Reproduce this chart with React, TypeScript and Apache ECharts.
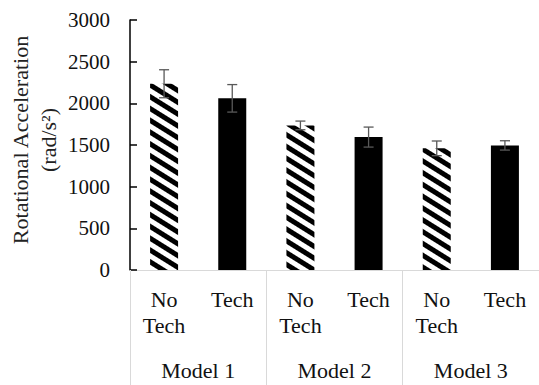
import React, { useEffect, useRef } from "react";
import * as echarts from "echarts";

// Bars, in drawing order: No Tech / Tech for each model
const categories = ["No\nTech", "Tech", "No\nTech", "Tech", "No\nTech", "Tech"];
const groups = ["Model 1", "Model 2", "Model 3"];
const means = [2235, 2060, 1735, 1595, 1460, 1495];
const errors = [168, 165, 52, 120, 88, 56];
const yTicks = { min: 0, max: 3000, interval: 500 };

const FONT = "Liberation Serif";

export default function App() {
  const ref = useRef<HTMLDivElement>(null);

  useEffect(() => {
    if (!ref.current) return;
    const chart = echarts.init(ref.current, null, { renderer: "svg" });

    // diagonal black/white stripes for the "No Tech" bars
    const hatch = {
      symbol: "rect",
      symbolSize: 1,
      color: "#000",
      backgroundColor: "#fff",
      dashArrayX: [1, 0],
      dashArrayY: [5, 5],
      rotation: Math.PI * 32 / 180,
    };

    const barData = means.map((v, i) => ({
      value: v,
      itemStyle:
        i % 2 === 0
          ? { color: "#fff", decal: hatch }
          : { color: "#000" },
    }));

    const errData = means.map((v, i) => [i, v, errors[i]]);

    chart.setOption({
      animation: false,
      backgroundColor: "#fff",
      textStyle: { fontFamily: FONT },
      grid: { left: 130, right: -8, top: 20, bottom: 115 },
      xAxis: [
        {
          type: "category",
          data: categories,
          position: "bottom",
          axisLine: { show: true, lineStyle: { color: "#d9d9d9", width: 1 } },
          axisTick: { show: false },
          axisLabel: {
            interval: 0,
            margin: 16,
            color: "#111",
            fontFamily: FONT,
            fontSize: 22,
            lineHeight: 26,
            align: "center",
          },
        },
        {
          type: "category",
          data: groups,
          position: "bottom",
          axisLine: { show: false },
          axisTick: {
            show: true,
            length: 115,
            lineStyle: { color: "#d9d9d9", width: 1 },
          },
          axisLabel: {
            interval: 0,
            margin: 89,
            color: "#111",
            fontFamily: FONT,
            fontSize: 22,
          },
        },
      ],
      yAxis: {
        type: "value",
        min: yTicks.min,
        max: yTicks.max,
        interval: yTicks.interval,
        axisLine: { show: true, lineStyle: { color: "#000", width: 1.5 } },
        axisTick: { show: true, inside: true, length: 7, lineStyle: { color: "#000", width: 1.5 } },
        splitLine: { show: false },
        axisLabel: {
          margin: 20,
          color: "#111",
          fontFamily: FONT,
          fontSize: 21,
          formatter: (v: number) => String(v),
        },
      },
      graphic: [
        {
          type: "text",
          x: 34,
          y: 140,
          rotation: Math.PI / 2,
          style: {
            text: "Rotational Acceleration\n(rad/s²)",
            fontFamily: FONT,
            fontSize: 22,
            lineHeight: 28,
            fill: "#222",
            align: "center",
            verticalAlign: "middle",
          },
        },
      ],
      series: [
        {
          type: "bar",
          xAxisIndex: 0,
          data: barData,
          barWidth: 28,
        },
        {
          type: "custom",
          xAxisIndex: 0,
          z: 5,
          data: errData,
          renderItem: (params: any, api: any) => {
            const x = api.value(0);
            const m = api.value(1);
            const e = api.value(2);
            const top = api.coord([x, m + e]);
            const bot = api.coord([x, m - e]);
            const half = 5;
            const style = { stroke: "#595959", lineWidth: 1.3 };
            return {
              type: "group",
              children: [
                { type: "line", shape: { x1: top[0], y1: top[1], x2: bot[0], y2: bot[1] }, style },
                { type: "line", shape: { x1: top[0] - half, y1: top[1], x2: top[0] + half, y2: top[1] }, style },
                { type: "line", shape: { x1: bot[0] - half, y1: bot[1], x2: bot[0] + half, y2: bot[1] }, style },
              ],
            };
          },
        },
      ],
    });

    return () => chart.dispose();
  }, []);

  return (
    <div
      ref={ref}
      style={{ position: "absolute", left: 0, top: 0, width: 539, height: 385 }}
    />
  );
}
